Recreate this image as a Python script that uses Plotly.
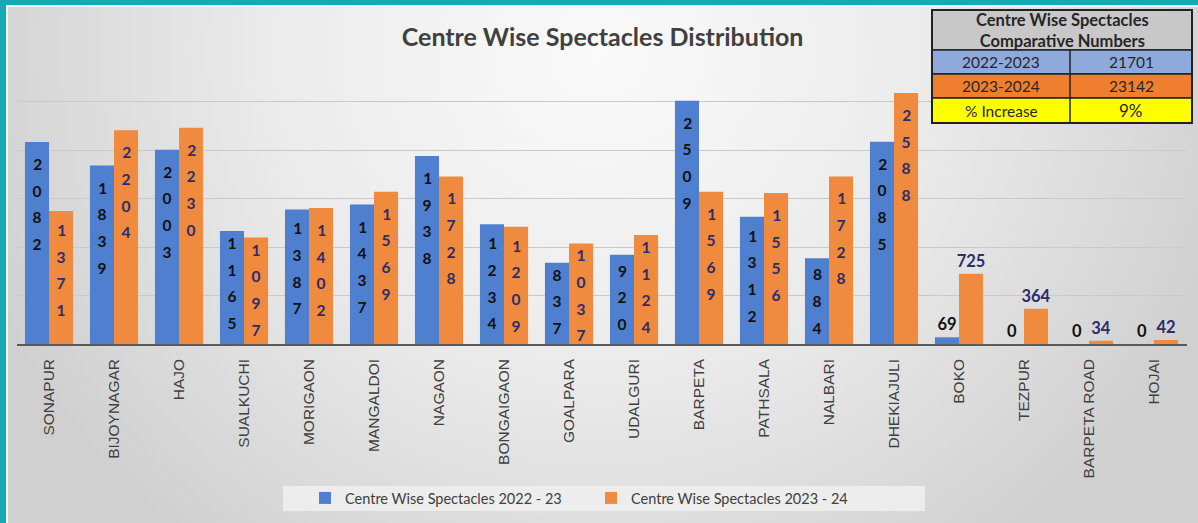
import plotly.graph_objects as go

W, H = 1198, 523

centres = ["SONAPUR", "BIJOYNAGAR", "HAJO", "SUALKUCHI", "MORIGAON", "MANGALDOI",
           "NAGAON", "BONGAIGAON", "GOALPARA", "UDALGURI", "BARPETA", "PATHSALA",
           "NALBARI", "DHEKIAJULI", "BOKO", "TEZPUR", "BARPETA ROAD", "HOJAI"]
spect_2022_23 = [2082, 1839, 2003, 1165, 1387, 1437, 1938, 1234, 837, 920, 2509, 1312,
                 884, 2085, 69, 0, 0, 0]
spect_2023_24 = [1371, 2204, 2230, 1097, 1402, 1569, 1728, 1209, 1037, 1124, 1569, 1556,
                 1728, 2588, 725, 364, 34, 42]
series_names = ["Centre Wise Spectacles 2022 - 23", "Centre Wise Spectacles 2023 - 24"]

table_title = "Centre Wise Spectacles<br>Comparative Numbers"
table_labels = ["2022-2023", "2023-2024", "% Increase"]
table_values = ["21701", "23142", "9%"]

BLUE = "#4f7fcf"
ORANGE = "#ef8a3e"
TEAL = "#15a9b4"

def px(x):
    return x / W

def py(y):
    return 1 - y / H

def top_pad_font(v):
    # invisible spacer size that pushes the stacked digits a little below the bar top
    if v >= 1400:
        return 25.5
    if v >= 1200:
        return 22.0
    if 870 <= v < 1000:
        return 19.0
    return None

def labels(vals):
    txt, pos, size = [], [], []
    for v in vals:
        if v >= 800:
            lines = [f"<span style='font-size:15.5px'>{d}</span>" for d in str(v)]
            pad = top_pad_font(v)
            if pad:
                lines[0] = (f"<span style='font-size:{pad}px;color:rgba(0,0,0,0)'>&#8202;</span>"
                            + lines[0])
            txt.append("<br>".join(lines))
            pos.append("inside")
            size.append(20.5)
        else:
            txt.append(f"<span style='font-size:16.5px'>{v}</span>")
            pos.append("outside")
            size.append(16.5)
    return txt, pos, size

fig = go.Figure()

# gradient background on a full-figure helper axis pair
fig.add_trace(go.Scatter(
    x=[-0.05, 1.05, 1.05, -0.05, -0.05], y=[-0.3, -0.3, 2.1, 2.1, -0.3], mode="none", fill="toself",
    fillgradient=dict(type="radial", colorscale=[[0, "#fafafa"], [0.5, "#ebebeb"], [1, "#d0d0d0"]]),
    hoverinfo="skip", showlegend=False, xaxis="x", yaxis="y"))

for vals, name, color, tcolor in [(spect_2022_23, series_names[0], BLUE, "#111111"),
                                   (spect_2023_24, series_names[1], ORANGE, "#2c2d6c")]:
    t, p, s = labels(vals)
    fig.add_trace(go.Bar(
        x=centres, y=vals, name=name, marker=dict(color=color, line=dict(width=0)),
        text=t, textposition=p, texttemplate="%{text}", insidetextanchor="end",
        textangle=0, constraintext="none", cliponaxis=False,
        textfont=dict(family="Lato, Open Sans, sans-serif", size=s, color=tcolor, weight="bold"),
        xaxis="x2", yaxis="y2", hoverinfo="x+y"))

shapes = [
    dict(type="rect", xref="paper", yref="paper", x0=0, x1=px(6), y0=0, y1=1,
         fillcolor=TEAL, line=dict(width=0), layer="above"),
    dict(type="rect", xref="paper", yref="paper", x0=0, x1=1, y0=py(5), y1=1,
         fillcolor=TEAL, line=dict(width=0), layer="above"),
    dict(type="rect", xref="paper", yref="paper", x0=px(6), x1=px(8), y0=0, y1=py(5),
         fillcolor="#f4f4f4", line=dict(width=0), layer="above"),
    dict(type="rect", xref="paper", yref="paper", x0=px(6), x1=1, y0=py(7), y1=py(5),
         fillcolor="#f4f4f4", line=dict(width=0), layer="above"),
    # legend panel
    dict(type="rect", xref="paper", yref="paper", x0=px(283), x1=px(925), y0=py(511), y1=py(486),
         fillcolor="rgba(238,238,238,0.9)", line=dict(width=0), layer="above"),
]

# comparison table
tx0, tx1, txm = 932, 1192, 1070
rows_y = [10, 50, 74, 98, 123]
row_fill = ["#c8c8c8", "#8eaadc", "#ef7f2f", "#ffff00"]
for i in range(4):
    shapes.append(dict(type="rect", xref="paper", yref="paper", x0=px(tx0), x1=px(tx1),
                       y0=py(rows_y[i + 1]), y1=py(rows_y[i]), fillcolor=row_fill[i],
                       line=dict(color="#222222", width=1.5), layer="above"))
shapes.append(dict(type="line", xref="paper", yref="paper", x0=px(txm), x1=px(txm),
                   y0=py(rows_y[4]), y1=py(rows_y[1]), line=dict(color="#222222", width=1.5),
                   layer="above"))
shapes.append(dict(type="rect", xref="paper", yref="paper", x0=px(tx0), x1=px(tx1),
                   y0=py(rows_y[4]), y1=py(rows_y[0]), line=dict(color="#222222", width=2),
                   layer="above"))

annotations = [dict(xref="paper", yref="paper", x=px((tx0 + tx1) / 2), y=py(30),
                    text=f"<b>{table_title}</b>", showarrow=False, xanchor="center", yanchor="middle",
                    font=dict(family="Lato, sans-serif", size=16.5, color="#262626"))]
for i in range(3):
    yc = (rows_y[i + 1] + rows_y[i + 2]) / 2
    annotations.append(dict(xref="paper", yref="paper", x=px((tx0 + txm) / 2), y=py(yc),
                            text=table_labels[i], showarrow=False, xanchor="center",
                            yanchor="middle",
                            font=dict(family="Lato, sans-serif", size=15.5, color="#262626")))
    annotations.append(dict(xref="paper", yref="paper", x=px((txm + tx1) / 2), y=py(yc),
                            text=table_values[i], showarrow=False, xanchor="center",
                            yanchor="middle",
                            font=dict(family="Lato, sans-serif", size=17 if i == 2 else 15.5,
                                      color="#262626")))

fig.update_layout(
    width=W, height=H, margin=dict(l=0, r=0, t=0, b=0),
    paper_bgcolor="#dcdcdc", plot_bgcolor="rgba(0,0,0,0)",
    title=dict(text="<b>Centre Wise Spectacles Distribution</b>", x=0.503, y=py(37),
               xanchor="center", yanchor="middle",
               font=dict(family="Lato, sans-serif", size=25, color="#404040")),
    xaxis=dict(domain=[0, 1], range=[0, 1], visible=False, fixedrange=True),
    yaxis=dict(domain=[0, 1], range=[0, 1], visible=False, fixedrange=True),
    xaxis2=dict(domain=[px(16.5), px(1186.5)], anchor="y2", type="category",
                showline=True, linecolor="#5a5a5a", linewidth=1.5, ticks="",
                tickangle=-90, showgrid=False, ticklabelstandoff=7,
                tickfont=dict(family="Liberation Sans, Arial, sans-serif", size=15.5, color="#404040")),
    yaxis2=dict(domain=[py(344), py(53)], anchor="x2", range=[0, 3000], dtick=500,
                showgrid=True, gridcolor="#c9c9c9", gridwidth=1, showticklabels=False,
                zeroline=False, showline=False),
    barmode="group", bargap=0.26, bargroupgap=0,
    showlegend=True,
    legend=dict(orientation="h", x=px(305), xanchor="left", y=py(498), yanchor="middle",
                bgcolor="rgba(0,0,0,0)", font=dict(family="Lato, sans-serif", size=14.5,
                                                   color="#404040"),
                itemwidth=30, entrywidth=241, traceorder="normal"),
    shapes=shapes, annotations=annotations,
)

fig.write_html("out.html", config={"displayModeBar": False},
               post_script="document.body.style.margin='0px';")
